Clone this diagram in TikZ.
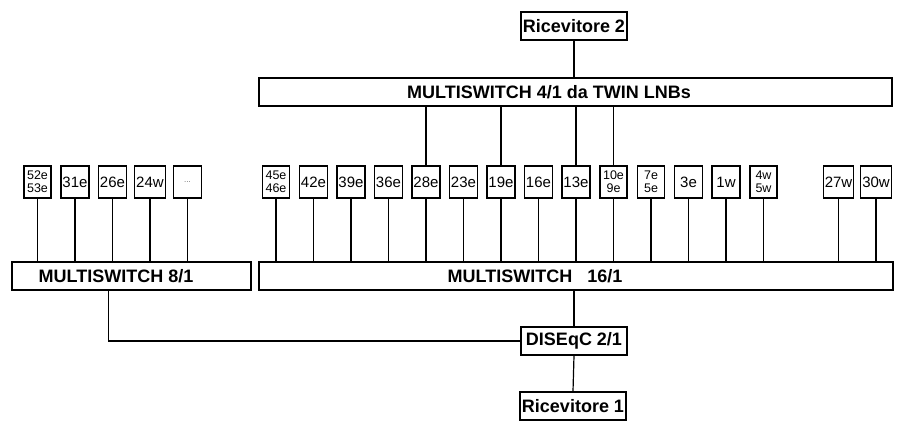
\documentclass[tikz,border=0pt]{standalone}
\usepackage{fontspec}
\setmainfont{Liberation Sans}
\usepackage{tikz}
\usetikzlibrary{positioning}
\tikzset{
	chbox/.style={draw, line width=1.2pt, minimum width=25pt, minimum height=32pt, inner xsep=1.5pt, inner ysep=1pt, font=\fontsize{15}{16}\selectfont},
	chtwo/.style={chbox, minimum width=27pt, align=center, font=\fontsize{12.5}{13}\selectfont},
	bigbox/.style={draw, line width=1.2pt, minimum height=28pt},
	rxbox/.style={draw, line width=1.2pt, minimum width=106pt, minimum height=28pt, inner sep=1pt, font=\fontsize{18}{20}\selectfont\bfseries},
	bigtext/.style={font=\fontsize{18}{20}\selectfont\bfseries},
	wire/.style={line width=1.2pt}
}

\begin{document}
\begin{tikzpicture}[x=1pt, y=-1pt]
	\useasboundingbox (0,0) rectangle (900,430);
	
	% Receivers, DiSEqC and multiswitches
	\node[rxbox] (rx2) at (574,26) {Ricevitore 2};
	\node[bigbox, minimum width=633pt] (ms4) at (575.5,92) {};
	\node[bigtext] (ms4txt) at (549,92) {MULTISWITCH 4/1 da TWIN LNBs};
	\node[bigbox, minimum width=239pt] (ms8) at (131.5,276) {};
	\node[bigtext] (ms8txt) at (116,276) {MULTISWITCH 8/1};
	\node[bigbox, minimum width=634pt] (ms16) at (576,276) {};
	\node[bigtext] (ms16txt) at (535,276) {MULTISWITCH\ \ \ 16/1};
	\node[rxbox] (dq) at (574,341) {DISEqC 2/1};
	\node[rxbox] (rx1) at (573,406) {Ricevitore 1};
	
	% Channels of the 8/1
	\node[chtwo] (l0) at (37.5,182) {52e\\53e};
	\node[chbox] (l1) at (75,182) {31e};
	\node[chbox] (l2) at (112.5,182) {26e};
	\node[chbox] (l3) at (150,182) {24w};
	\node[chbox, minimum width=28pt, font=\fontsize{8}{9}\selectfont, text=black!60] (l4) at (187.5,182) {...};
	
	% Channels of the 16/1
	\node[chtwo] (c0) at (276,182) {45e\\46e};
	\node[chbox] (c1) at (313.5,182) {42e};
	\node[chbox] (c2) at (351,182) {39e};
	\node[chbox] (c3) at (388.5,182) {36e};
	\node[chbox] (c4) at (426,182) {28e};
	\node[chbox] (c5) at (463.5,182) {23e};
	\node[chbox] (c6) at (501,182) {19e};
	\node[chbox] (c7) at (538.5,182) {16e};
	\node[chbox] (c8) at (576,182) {13e};
	\node[chtwo] (c9) at (613.5,182) {10e\\9e};
	\node[chtwo] (c10) at (651,182) {7e\\5e};
	\node[chbox, minimum width=28pt] (c11) at (688.5,182) {3e};
	\node[chbox, minimum width=28pt] (c12) at (726,182) {1w};
	\node[chtwo] (c13) at (763.5,182) {4w\\5w};
	\node[chbox] (c15) at (838.5,182) {27w};
	\node[chbox] (c16) at (876,182) {30w};
	
	% Wires down to the multiswitches
	\foreach \n in {l0,l1,l2,l3,l4}
		\draw[wire] (\n.south) -- (\n.south |- ms8.north);
	\foreach \n in {c0,c1,c2,c3,c4,c5,c6,c7,c8,c9,c10,c11,c12,c13,c15,c16}
		\draw[wire] (\n.south) -- (\n.south |- ms16.north);
	
	% Wires up to the 4/1
	\foreach \n in {c4,c6,c8,c9}
		\draw[wire] (\n.north) -- (\n.north |- ms4.south);
	\draw[wire] (rx2.south) -- (rx2.south |- ms4.north);
	
	% DiSEqC
	\draw[wire] (dq.north) -- (dq.north |- ms16.south);
	\draw[wire] (dq.south) -- (rx1.north);
	\draw[wire] (dq.west) -| ([xshift=-23pt]ms8.south);
\end{tikzpicture}
\end{document}
